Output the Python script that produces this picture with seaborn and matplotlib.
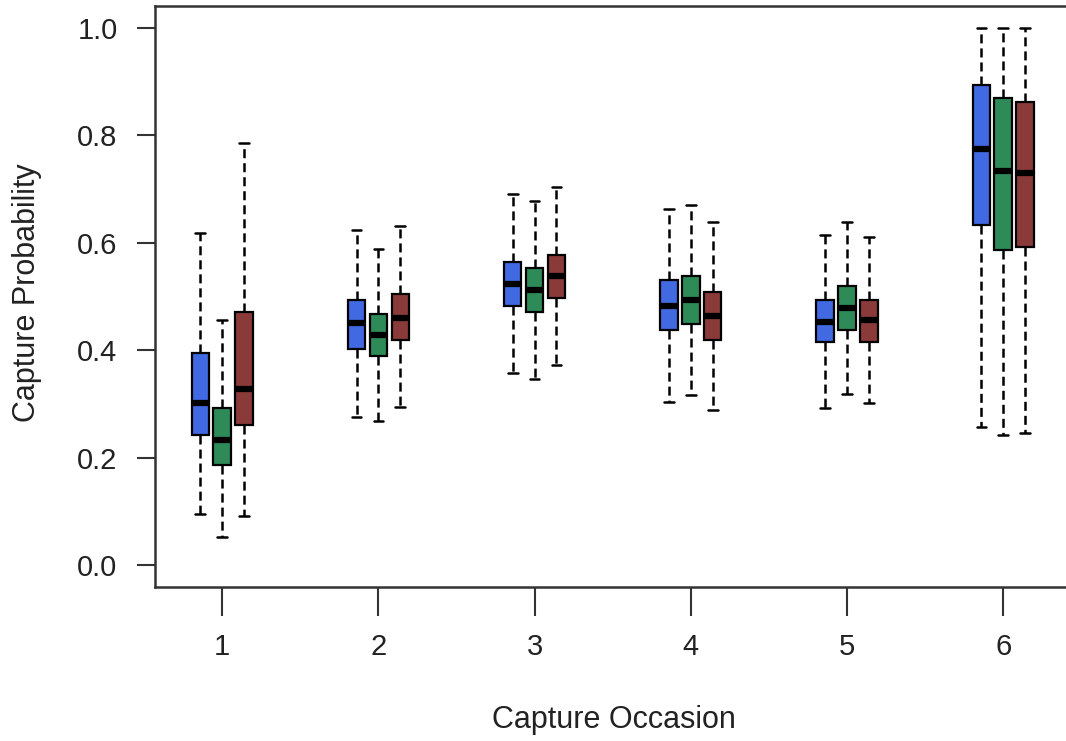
import numpy as np
import pandas as pd
import matplotlib
matplotlib.use('Agg')
import matplotlib.pyplot as plt
import seaborn as sns

# five-number summaries, one list per series (occasions 1..6)
occasions = ['1', '2', '3', '4', '5', '6']
series = ['blue', 'green', 'red']
colors = ['#4169E1', '#2E8B57', '#8B3A3A']

whisk_lo = [[0.095, 0.276, 0.357, 0.304, 0.293, 0.257],
            [0.053, 0.268, 0.346, 0.316, 0.319, 0.242],
            [0.092, 0.294, 0.372, 0.289, 0.301, 0.245]]
q1 = [[0.242, 0.403, 0.483, 0.437, 0.415, 0.634],
      [0.186, 0.389, 0.471, 0.448, 0.437, 0.586],
      [0.260, 0.419, 0.498, 0.419, 0.415, 0.593]]
median = [[0.302, 0.450, 0.524, 0.482, 0.452, 0.774],
          [0.232, 0.428, 0.513, 0.493, 0.479, 0.734],
          [0.327, 0.460, 0.538, 0.464, 0.456, 0.730]]
q3 = [[0.394, 0.493, 0.564, 0.530, 0.493, 0.893],
      [0.293, 0.468, 0.553, 0.538, 0.519, 0.870],
      [0.471, 0.505, 0.578, 0.508, 0.493, 0.863]]
whisk_hi = [[0.619, 0.623, 0.691, 0.662, 0.615, 1.000],
            [0.457, 0.589, 0.678, 0.671, 0.638, 1.000],
            [0.786, 0.631, 0.704, 0.638, 0.611, 1.000]]

rows = []
for s, name in enumerate(series):
    for o, occ in enumerate(occasions):
        for v in (whisk_lo[s][o], q1[s][o], median[s][o], q3[s][o], whisk_hi[s][o]):
            rows.append({'occasion': occ, 'series': name, 'value': v})
df = pd.DataFrame(rows)

sns.set_style('white')
plt.rcParams['font.family'] = ['Liberation Sans', 'DejaVu Sans']
plt.rcParams['lines.scale_dashes'] = False

fig = plt.figure(figsize=(10.66, 7.41), dpi=100)
W, H = 1066, 741
ax = fig.add_axes([155 / W, 1 - 587 / H, (W - 155) / W, (587 - 5.7) / H])

sns.boxplot(data=df, x='occasion', y='value', hue='series', order=occasions,
            hue_order=series, palette=colors, saturation=1, width=0.42, gap=0.2,
            whis=(0, 100), fliersize=0, linecolor='black', linewidth=1.6,
            whiskerprops=dict(linestyle=(0, (6.5, 3.6)), linewidth=1.8),
            capprops=dict(linewidth=1.8), capwidths=0.062,
            medianprops=dict(color='black', linewidth=4.5),
            legend=False, ax=ax)

ax.set_xlim(-0.43, (W - 223.3) / 156)
ax.set_ylim(-0.041, 1.0415)
ax.set_yticks([0.0, 0.2, 0.4, 0.6, 0.8, 1.0])
ax.set_yticklabels(['0.0', '0.2', '0.4', '0.6', '0.8', '1.0'])

for side in ['left', 'bottom', 'top']:
    ax.spines[side].set_visible(True)
    ax.spines[side].set_color('#333333')
    ax.spines[side].set_linewidth(1.8)
ax.spines['right'].set_visible(False)

ax.tick_params(axis='y', direction='out', length=13, width=1.5, color='#333333',
               pad=14, labelsize=21, labelcolor='#222222', left=True)
ax.tick_params(axis='x', direction='out', length=21, width=1.5, color='#333333',
               pad=12, labelsize=21, labelcolor='#222222', bottom=True)

ax.set_xlabel('Capture Occasion', fontsize=22, color='#222222')
ax.set_ylabel('Capture Probability', fontsize=22, color='#222222')
ax.xaxis.label.set_va('center')
ax.xaxis.set_label_coords(0.504, (587 - 720) / 581.3)
ax.yaxis.label.set_va('center')
ax.yaxis.set_label_coords((27 - 155) / 911, 0.507)

fig.savefig('out.png', dpi=100)
